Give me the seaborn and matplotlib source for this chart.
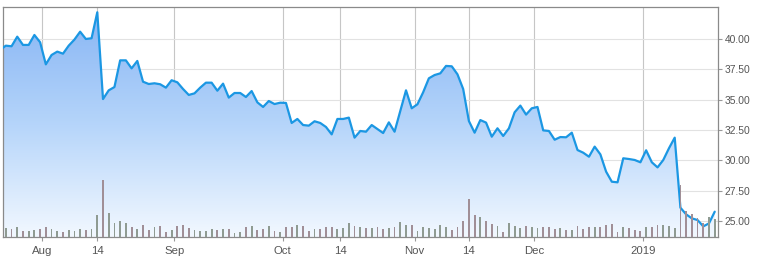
import numpy as np
import pandas as pd
import matplotlib
matplotlib.use("Agg")
import matplotlib.pyplot as plt
import seaborn as sns
from matplotlib.colors import LinearSegmentedColormap

# ---- data (trading-day index 0..125, Jul 2018 -> Jan 2019) ----
close = [39.10, 39.45, 39.40, 40.19, 39.51, 39.51, 40.33, 39.73, 37.91, 38.68,
         38.96, 38.79, 39.45, 39.95, 40.60, 40.00, 40.06, 42.20, 35.05, 35.77,
         36.04, 38.24, 38.24, 37.58, 38.19, 36.48, 36.29, 36.35, 36.27, 35.99,
         36.60, 36.43, 35.88, 35.39, 35.52, 35.99, 36.40, 36.40, 35.74, 36.32,
         35.17, 35.55, 35.55, 35.22, 35.71, 34.78, 34.40, 34.89, 34.64, 34.75,
         34.73, 33.08, 33.41, 32.91, 32.86, 33.22, 33.08, 32.75, 32.14, 33.41,
         33.41, 33.52, 31.87, 32.42, 32.36, 32.91, 32.58, 32.25, 33.13, 32.36,
         34.07, 35.77, 34.29, 34.62, 35.61, 36.76, 37.03, 37.17, 37.78, 37.75,
         37.09, 35.88, 33.24, 32.28, 33.32, 33.11, 31.95, 32.64, 32.01, 32.64,
         33.96, 34.51, 33.77, 34.29, 34.40, 32.47, 32.42, 31.70, 31.92, 31.90,
         32.28, 30.85, 30.63, 30.30, 31.13, 30.49, 29.07, 28.24, 28.19, 30.17,
         30.11, 30.03, 29.84, 30.83, 29.84, 29.42, 30.03, 31.00, 31.87, 26.10,
         25.55, 25.22, 25.08, 24.56, 24.81, 25.77]

volume = [6.0, 6.8, 6.0, 8.0, 4.7, 4.7, 5.5, 6.2, 7.5, 6.2,
          4.5, 4.0, 5.3, 5.0, 6.0, 5.5, 6.5, 16.7, 43.0, 18.0,
          11.0, 12.2, 11.0, 8.0, 6.5, 9.2, 5.5, 7.7, 8.5, 4.0,
          5.5, 8.5, 9.2, 7.3, 5.5, 4.7, 5.0, 6.0, 5.5, 6.0,
          6.0, 3.5, 4.3, 7.5, 8.5, 5.5, 6.0, 8.5, 4.5, 4.3,
          7.5, 7.5, 9.2, 8.5, 5.0, 6.0, 6.0, 7.5, 7.7, 6.0,
          6.8, 10.5, 8.5, 7.5, 7.3, 6.8, 7.5, 6.0, 6.8, 7.5,
          11.2, 9.2, 9.0, 5.0, 7.5, 6.8, 6.0, 9.0, 7.5, 5.5,
          7.5, 12.2, 28.7, 16.7, 15.0, 12.2, 10.0, 8.5, 4.0, 10.5,
          8.5, 6.8, 8.5, 7.5, 6.8, 8.0, 7.5, 6.0, 6.8, 5.5,
          5.5, 8.5, 6.0, 7.5, 7.5, 8.0, 9.2, 10.0, 4.0, 7.5,
          6.8, 5.5, 5.0, 7.5, 7.5, 9.0, 9.0, 8.5, 6.8, 39.2,
          20.0, 17.5, 14.2, 10.5, 15.0, 13.5]

tick_labels = ["Aug", "14", "Sep", "Oct", "14", "Nov", "14", "Dec", "2019"]
tick_pos = [7.4, 17.0, 30.45, 49.45, 59.45, 72.5, 82.0, 93.45, 112.45]
price_ticks = [25.0, 27.5, 30.0, 32.5, 35.0, 37.5, 40.0]

# ---- style ----
sns.set_theme(style="white")
plt.rcParams['font.family'] = ['Liberation Sans', 'DejaVu Sans']

df = pd.DataFrame({"day": np.arange(len(close)), "close": close, "volume": volume})
df["dir"] = np.where(df["close"].diff().fillna(0) >= 0, "up", "down")

W, H = 764, 267
fig = plt.figure(figsize=(W / 100, H / 100), dpi=100)
fig.patch.set_facecolor("white")
left_px, right_px, top_px, bot_px = 3.3, 717.7, 6.7, 237.3
ax = fig.add_axes([left_px / W, 1 - bot_px / H, (right_px - left_px) / W, (bot_px - top_px) / H])

x0, x1 = 0.56, 125.52
y0, y1 = 23.66, 42.66

# gradient area under the price line
poly = ax.fill_between(df["day"], df["close"], y0, color="none", linewidth=0)
grad = np.linspace(0, 1, 256).reshape(-1, 1)
cmap = LinearSegmentedColormap.from_list("g", ["#86b4f4", "#b4d4fa", "#f2f8ff"])
im = ax.imshow(grad, extent=[x0, x1, y0, y1], origin="upper", aspect="auto",
               cmap=cmap, zorder=0.8, interpolation="bilinear")
im.set_clip_path(poly.get_paths()[0], transform=ax.transData)

sns.lineplot(data=df, x="day", y="close", ax=ax, color="#1b97e3", linewidth=1.6,
             zorder=3, estimator=None)

# volume bars
ax2 = ax.twinx()
sns.barplot(data=df, x="day", y="volume", hue="dir",
            palette={"up": "#8f9b92", "down": "#a08f97"},
            dodge=False, width=0.32, native_scale=True, legend=False,
            errorbar=None, saturation=1, linewidth=0, ax=ax2)
ax2.set_ylim(0, 173)
ax2.set_yticks([])
ax2.set_ylabel("")
ax2.set_xlabel("")
for s in ax2.spines.values():
    s.set_visible(False)

ax.set_xlim(x0, x1)
ax.set_ylim(y0, y1)
ax.set_xticks(tick_pos, tick_labels)
ax.set_yticks(price_ticks, [f"{v:.2f}" for v in price_ticks])
ax.yaxis.tick_right()
ax.set_xlabel("")
ax.set_ylabel("")
ax.grid(axis="y", color="#e2e2e2", linewidth=0.8)
ax.grid(axis="x", color="#c6c6c6", linewidth=0.8)
ax.tick_params(axis="x", length=3, width=0.8, color="#999999", labelsize=8.2,
               labelcolor="#555555", pad=3.5, bottom=True)
ax.tick_params(axis="y", length=3, width=0.8, color="#999999", labelsize=7.4,
               labelcolor="#555555", pad=2, right=True, left=False)
for s in ax.spines.values():
    s.set_visible(True)
    s.set_color("#8a8a8a")
    s.set_linewidth(0.9)
ax.set_facecolor("white")

fig.savefig("out.png", dpi=100, facecolor="white")
